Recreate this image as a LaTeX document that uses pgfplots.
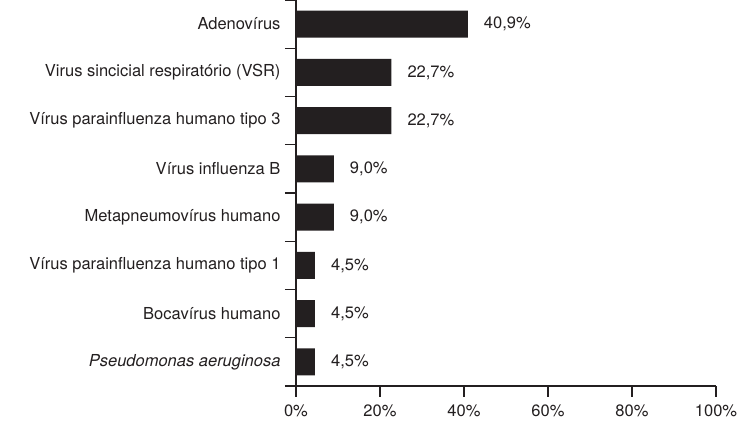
\documentclass[border=0pt]{standalone}
\usepackage{pgfplots}
\pgfplotsset{compat=1.18}
\usepackage{fontspec}
\setmainfont{TeX Gyre Heros}
\definecolor{barfill}{HTML}{231F20}
\begin{document}
\begin{tikzpicture}
\begin{axis}[
    name=ax,
    scale only axis, width=420bp, height=386bp,
    xmin=0, xmax=100, ymin=-0.5, ymax=7.5,
    enlargelimits=false,
    axis x line*=bottom, axis y line*=left,
    axis line style={line width=1.3bp, color=barfill},
    tick style={line width=1.4bp, color=barfill},
    tick align=outside,
    major tick length=11bp,
    xtick={0,20,...,100},
    xticklabels={0\%,20\%,40\%,60\%,80\%,100\%},
    xticklabel style={yshift=-4bp},
    % ticks sit between the categories, labels are moved down half a row
    ytick={-0.5,0.5,1.5,2.5,3.5,4.5,5.5,6.5,7.5},
    yticklabels={{}, \textit{Pseudomonas aeruginosa}, Bocavírus humano, Vírus parainfluenza humano tipo 1, Metapneumovírus humano, Vírus influenza B, Vírus parainfluenza humano tipo 3, Virus sincicial respiratório (VSR), Adenovírus},
    yticklabel style={yshift=-24.1bp, xshift=-1bp},
    every tick label/.append style={font=\fontsize{16.5bp}{20bp}\selectfont, text=barfill},
    /pgf/number format/assume math mode=true,
]
\addplot[xbar, bar width=27bp, bar shift=0pt, fill=barfill, draw=none,
    point meta=x,
    nodes near coords={\pgfmathprintnumber[fixed,fixed zerofill,precision=1,use comma]{\pgfplotspointmeta}\%},
    every node near coord/.append style={anchor=west, inner sep=0pt, xshift=16bp,
        font=\fontsize{16.5bp}{20bp}\selectfont, text=barfill}]
coordinates {
    (40.9,7) (22.7,6) (22.7,5) (9.0,4) (9.0,3) (4.5,2) (4.5,1) (4.5,0)
};
\end{axis}
\pgfresetboundingbox
\path ([xshift=-296bp,yshift=-47bp]ax.south west) rectangle ([xshift=35bp]ax.north east);
\end{tikzpicture}
\end{document}
